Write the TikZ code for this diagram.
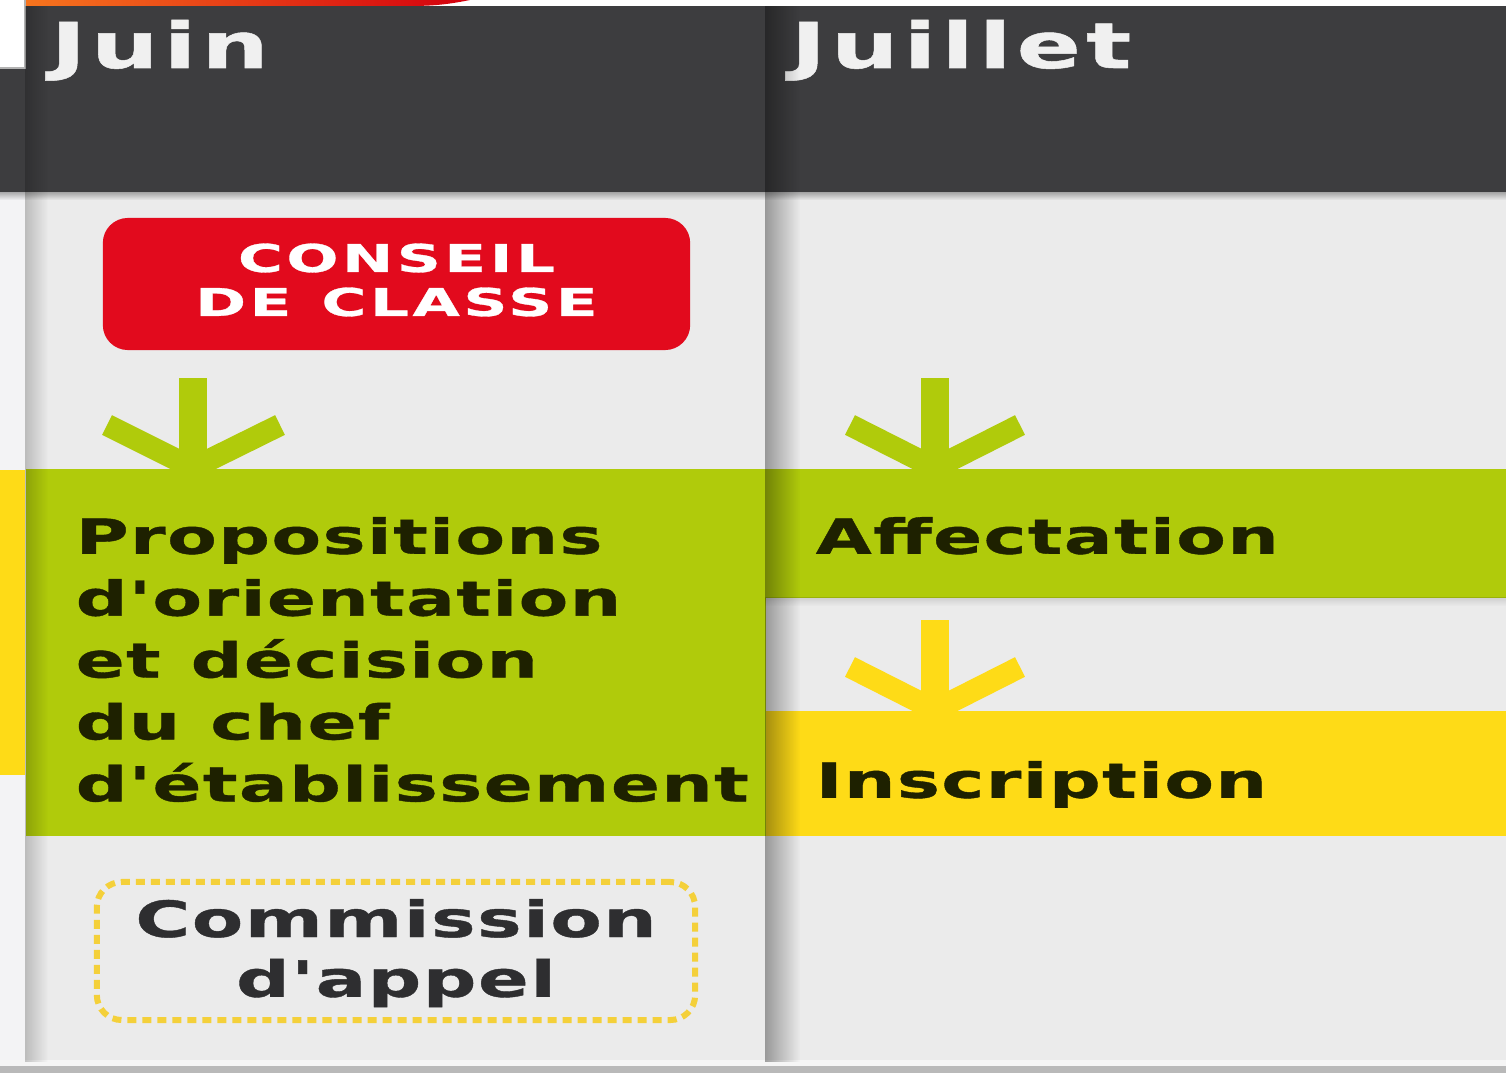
\documentclass[tikz,border=0pt]{standalone}
\usepackage{fontspec}
\usetikzlibrary{fadings}
\newfontfamily\chartfont{DejaVu Sans}[FakeStretch=1.5,LetterSpace=3,FakeBold=0.8,Ligatures=TeXOff]
\newfontfamily\capsfont{DejaVu Sans}[FakeStretch=1.6,LetterSpace=9,FakeBold=0.8,Ligatures=TeXOff]
\newfontfamily\monthfont{DejaVu Sans}[FakeStretch=1.5,LetterSpace=8,FakeBold=0.8,Ligatures=TeXOff]
\newcommand{\wsp}{\hspace{0.3cm}}
\definecolor{headgray}{HTML}{3D3D3F}
\definecolor{paper}{HTML}{EBEBEB}
\definecolor{stripgray}{HTML}{F3F3F5}
\definecolor{conseilred}{HTML}{E20A1D}
\definecolor{leafgreen}{HTML}{B0CB0B}
\definecolor{sunyellow}{HTML}{FEDB17}
\definecolor{dotyellow}{HTML}{F4D03A}
\definecolor{inkdark}{HTML}{1E2100}
\definecolor{inkgray}{HTML}{2E2E30}
\definecolor{orangetop}{HTML}{F7751E}
\definecolor{redtop}{HTML}{D4000E}
\tikzset{
	monthlabel/.style={anchor=base west, inner sep=0pt, text=white!94!black,
		font=\monthfont\bfseries\fontsize{18}{20}\selectfont},
	bandtext/.style={rectangle, anchor=north west, inner ysep=0pt, inner xsep=0.5cm,
		align=left, text=inkdark, font=\chartfont\bfseries\fontsize{13.7}{17.6}\selectfont},
	conseilbox/.style={rectangle, fill=conseilred, rounded corners=0.25cm, inner sep=0pt,
		minimum width=5.87cm, minimum height=1.32cm, text width=5.5cm, align=center,
		text height=0.28cm, text depth=0.52cm, text=white,
		font=\capsfont\bfseries\fontsize{10.9}{12.5}\selectfont},
	appealbox/.style={rectangle, draw=dotyellow, line width=0.06cm,
		dash pattern=on 0.09cm off 0.06cm, rounded corners=0.25cm, inner sep=0pt,
		minimum width=5.98cm, minimum height=1.38cm, text width=5.6cm, align=center,
		text height=0.40cm, text depth=0.68cm, text=inkgray,
		font=\chartfont\bfseries\fontsize{14.2}{17}\selectfont},
	stem/.style={line width=0.28cm},
	barb/.style={line width=0.22cm, line join=miter}
}

\begin{document}
\begin{tikzpicture}[x=0.01cm,y=-0.01cm]
	\useasboundingbox (0,0) rectangle (1506,1073);
	\fill[paper] (0,0) rectangle (1506,1073);
	\fill[white] (0,0) rectangle (1506,6);
	\shade[left color=orangetop, right color=redtop] (25,0) -- (470,0) .. controls (450,4) and (435,6) .. (410,6) -- (25,6) -- cycle;
	\fill[headgray] (25,6) rectangle (1506,192);
	\fill[headgray] (0,68) rectangle (25,192);
	\draw[gray!60, fill=white] (-5,-5) rectangle (25,68);
	\fill[stripgray] (0,192) rectangle (25,1062);
	\fill[sunyellow] (0,470) rectangle (25,775);
	\fill[white!96!black] (0,1060) rectangle (1506,1066);
	\fill[gray!55] (0,1066) rectangle (1506,1073);

	\node[monthlabel] (juin) at (50,68) {Juin};
	\node[monthlabel] (juillet) at (790,68) {Juillet};

	\node[conseilbox] (conseil) at (396.5,284) {CONSEIL\\DE\wsp CLASSE};
	\node[bandtext, fill=leafgreen, minimum width=7.4cm, minimum height=3.67cm, text width=6.4cm,
		text height=0.37cm, text depth=2.34cm] (prop) at (25,468)
		{Propositions\\d'orientation\\et\wsp décision\\du\wsp chef\\d'établissement};
	\node[bandtext, fill=leafgreen, minimum width=7.41cm, minimum height=1.29cm, text width=6.41cm,
		text height=0.41cm, text depth=0cm] (affect) at (765,468) {Affectation};
	\node[bandtext, fill=sunyellow, minimum width=7.41cm, minimum height=1.25cm, text width=6.41cm,
		text height=0.49cm, text depth=0cm] (insc) at (765,710) {Inscription};
	\node[appealbox] (appel) at (396,951) {Commission\\d'appel};

	\draw[stem, leafgreen] (193,378) -- (193,0 |- prop.north);
	\draw[barb, leafgreen] (107,425) -- (193,0 |- prop.north) -- (280,425);
	\draw[stem, leafgreen] (935,378) -- (935,0 |- affect.north);
	\draw[barb, leafgreen] (850,425) -- (935,0 |- affect.north) -- (1020,425);
	\draw[stem, sunyellow] (935,620) -- (935,0 |- insc.north);
	\draw[barb, sunyellow] (850,667) -- (935,0 |- insc.north) -- (1020,667);

	\fill[black, opacity=0.3, path fading=south] (0,192) rectangle (1506,200);
	\fill[black, opacity=0.12, path fading=south] (765,597) rectangle (1506,606);
	\fill[black, opacity=0.2, path fading=east] (25,6) rectangle (48,1062);
	\fill[black, opacity=0.35, path fading=east] (765,6) rectangle (800,1062);
\end{tikzpicture}
\end{document}
